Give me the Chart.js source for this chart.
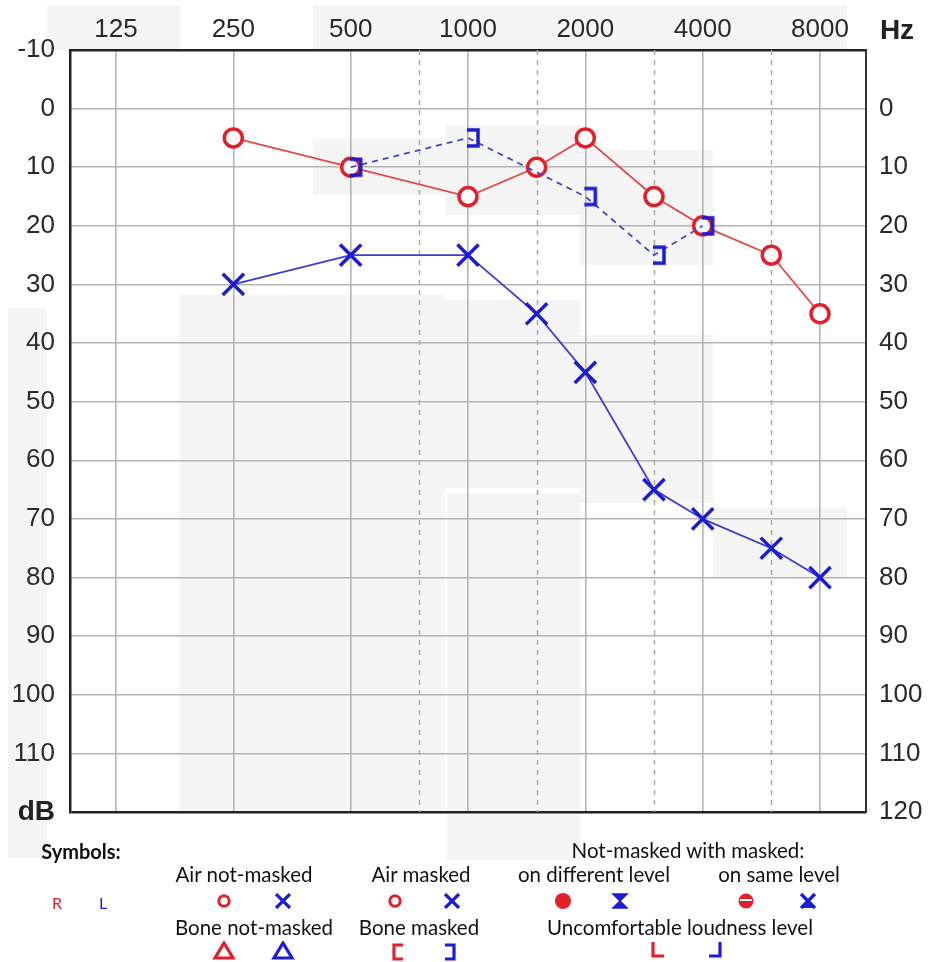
<!DOCTYPE html>
<html>
<head>
<meta charset="utf-8">
<script src="https://cdn.jsdelivr.net/npm/chart.js@4.4.1/dist/chart.umd.min.js"></script>
<style>
  html, body { margin: 0; padding: 0; background: #fff; }
  #wrap { position: relative; width: 937px; height: 962px; overflow: hidden; }
  #audiogram { position: absolute; left: 0; top: 0; }
  .lbl { position: absolute; white-space: nowrap; transform: translate(-50%, -50%);
         font-family: Lato, "Liberation Sans", sans-serif; font-size: 20.5px; color: #111; line-height: 1; }
  .sym { position: absolute; transform: translate(-50%, -50%); display: block; }
</style>
</head>
<body>
<div id="wrap">
  <canvas id="audiogram" width="937" height="962"></canvas>
  <div id="legend"></div>
</div>
<script>
// frequencies (Hz) and hearing levels (dB HL)
const freqTicks = [125, 250, 500, 1000, 2000, 4000, 8000];
const halfOctaves = [750, 1500, 3000, 6000];
const airFreqs = [250, 500, 1000, 1500, 2000, 3000, 4000, 6000, 8000];
const rightAir = [5, 10, 15, 10, 5, 15, 20, 25, 35];
const leftAir = [30, 25, 25, 35, 45, 65, 70, 75, 80];
const boneFreqs = [500, 1000, 2000, 3000, 4000];
const leftBoneMasked = [10, 5, 15, 25, 20];

const RED = '#e0202a';
const BLUE = '#1c1cd0';
const X_MIN = 125 / Math.pow(2, 0.392);
const X_MAX = 8000 * Math.pow(2, 0.392);

const toPoints = (xs, ys) => xs.map((f, i) => ({ x: f, y: ys[i] }));

// "]" bracket, open side on the frequency line
function bracketImage(color) {
  const c = document.createElement('canvas');
  c.width = 28; c.height = 24;
  const g = c.getContext('2d');
  g.strokeStyle = color;
  g.lineWidth = 3.5;
  g.beginPath();
  g.moveTo(13, 4); g.lineTo(24, 4); g.lineTo(24, 20); g.lineTo(13, 20);
  g.stroke();
  return c;
}

// faint grey patches of the scanned original
const patches = {
  id: 'patches',
  beforeDraw(chart) {
    const ctx = chart.ctx;
    ctx.save();
    ctx.fillStyle = '#f5f5f5';
    [[47, 5, 133, 45], [313, 5, 534, 45], [8, 308, 39, 550], [180, 295, 265, 517],
     [445, 300, 135, 188], [447, 493, 133, 367], [580, 335, 133, 168],
     [313, 138, 132, 57], [445, 125, 135, 90], [580, 150, 133, 115], [713, 507, 134, 70]]
      .forEach(r => ctx.fillRect(r[0], r[1], r[2], r[3]));
    ctx.restore();
  }
};

const halfOctaveLines = {
  id: 'halfOctaveLines',
  beforeDatasetsDraw(chart) {
    const { ctx, chartArea: { top, bottom }, scales: { x } } = chart;
    ctx.save();
    ctx.strokeStyle = '#acacac';
    ctx.lineWidth = 1.5;
    ctx.setLineDash([5, 5]);
    halfOctaves.forEach(f => {
      const px = Math.round(x.getPixelForValue(f)) + 0.5;
      ctx.beginPath();
      ctx.moveTo(px, top);
      ctx.lineTo(px, bottom);
      ctx.stroke();
    });
    ctx.restore();
  }
};

const tickFont = { family: '"Liberation Sans", Arial, sans-serif', size: 26 };
const boldFont = { family: '"Liberation Sans", Arial, sans-serif', size: 28, weight: 'bold' };
const isEdge = ctx => ctx.tick && ctx.tick.value === 120;

new Chart(document.getElementById('audiogram'), {
  type: 'line',
  data: {
    datasets: [
      {
        label: 'Left bone masked',
        data: toPoints(boneFreqs, leftBoneMasked),
        borderColor: '#4646c8',
        borderWidth: 1.8,
        borderDash: [6, 5],
        pointStyle: bracketImage(BLUE),
        pointRadius: 10
      },
      {
        label: 'Right air',
        data: toPoints(airFreqs, rightAir),
        borderColor: '#e04a4a',
        borderWidth: 1.8,
        pointStyle: 'circle',
        pointRadius: 9,
        pointBorderWidth: 3.5,
        pointBorderColor: RED,
        pointBackgroundColor: '#fff'
      },
      {
        label: 'Left air',
        data: toPoints(airFreqs, leftAir),
        borderColor: '#3c3cd0',
        borderWidth: 1.8,
        pointStyle: 'crossRot',
        pointRadius: 15,
        pointBorderWidth: 3.5,
        pointBorderColor: BLUE
      }
    ]
  },
  options: {
    responsive: false,
    animation: false,
    layout: { padding: { bottom: 150 } },
    plugins: { legend: { display: false }, tooltip: { enabled: false } },
    scales: {
      x: {
        type: 'logarithmic',
        position: 'top',
        min: X_MIN,
        max: X_MAX,
        afterBuildTicks: s => { s.ticks = freqTicks.map(v => ({ value: v })); },
        afterFit: s => { s.height = 50; },
        ticks: {
          callback: v => String(v),
          font: tickFont, color: '#2a2a2a', padding: 5,
          autoSkip: false, maxRotation: 0, minRotation: 0
        },
        grid: { color: '#b4b4b4', lineWidth: 1.6, drawTicks: false },
        border: { color: '#222', width: 2.5 }
      },
      y: {
        type: 'linear',
        position: 'left',
        reverse: true,
        min: -10,
        max: 120,
        afterFit: s => { s.width = 70; },
        ticks: {
          stepSize: 10,
          callback: v => (v === 120 ? 'dB' : String(v)),
          font: ctx => (isEdge(ctx) ? boldFont : tickFont),
          color: ctx => (isEdge(ctx) ? '#222' : '#2a2a2a'),
          padding: 15
        },
        grid: {
          color: ctx => (isEdge(ctx) ? '#222' : '#b4b4b4'),
          lineWidth: ctx => (isEdge(ctx) ? 2.5 : 1.6),
          drawTicks: false
        },
        border: { color: '#222', width: 2.5 }
      },
      y2: {
        type: 'linear',
        position: 'right',
        reverse: true,
        min: -10,
        max: 120,
        afterFit: s => { s.width = 71; },
        ticks: {
          stepSize: 10,
          callback: v => (v === -10 ? '' : String(v)),
          font: tickFont, color: '#2a2a2a', padding: 13
        },
        grid: { drawOnChartArea: false, drawTicks: false },
        border: { color: '#333', width: 2 }
      }
    }
  },
  plugins: [patches, halfOctaveLines]
});

// unit label and the symbol key underneath
const legend = document.getElementById('legend');
function addLabel(text, cx, cy, style) {
  const d = document.createElement('div');
  d.className = 'lbl';
  d.textContent = text;
  d.style.left = cx + 'px';
  d.style.top = cy + 'px';
  Object.assign(d.style, style || {});
  legend.appendChild(d);
}
function addSymbol(w, h, inner, cx, cy) {
  const s = '<svg class="sym" xmlns="http://www.w3.org/2000/svg" width="' + w + '" height="' + h +
    '" style="left:' + cx + 'px;top:' + cy + 'px">' + inner + '</svg>';
  legend.insertAdjacentHTML('beforeend', s);
}

addLabel('Hz', 897, 30, { fontFamily: '"Liberation Sans", Arial, sans-serif', fontWeight: 'bold', fontSize: '28px', color: '#222' });

addLabel('Symbols:', 81, 851, { fontWeight: 'bold', fontSize: '20px' });
addLabel('R', 57, 903, { color: RED, fontSize: '16px' });
addLabel('L', 103, 903, { color: BLUE, fontSize: '16px' });
addLabel('Air not-masked', 244, 874);
addLabel('Bone not-masked', 254, 927);
addLabel('Air masked', 421, 874);
addLabel('Bone masked', 419, 927);
addLabel('Not-masked with masked:', 688, 850);
addLabel('on different level', 594, 874);
addLabel('on same level', 779, 874);
addLabel('Uncomfortable loudness level', 680, 927);

const ring = c => '<circle cx="8" cy="8" r="5.2" fill="none" stroke="' + c + '" stroke-width="3"/>';
const cross = c => '<path d="M2 1 L16 15 M16 1 L2 15" stroke="' + c + '" stroke-width="3.2" fill="none"/>';
const tri = c => '<path d="M12 2 L21 17 L3 17 Z" fill="none" stroke="' + c + '" stroke-width="3.2"/>';

addSymbol(16, 16, ring(RED), 224, 901);
addSymbol(18, 16, cross(BLUE), 283, 901);
addSymbol(16, 16, ring(RED), 395, 901);
addSymbol(18, 16, cross(BLUE), 452, 901);
addSymbol(24, 20, tri(RED), 224, 951);
addSymbol(24, 20, tri(BLUE), 283, 951);
addSymbol(14, 18, '<path d="M12 2 H3 V16 H12" fill="none" stroke="' + RED + '" stroke-width="3.2"/>', 398, 952);
addSymbol(14, 18, '<path d="M2 2 H11 V16 H2" fill="none" stroke="' + BLUE + '" stroke-width="3.2"/>', 450, 952);
addSymbol(18, 18, '<circle cx="9" cy="9" r="8" fill="' + RED + '"/>', 563, 901);
addSymbol(18, 18, '<path d="M2 2 H16 L9 9 L16 16 H2 L9 9 Z" fill="' + BLUE + '" stroke="' + BLUE + '" stroke-width="1.5"/>', 620, 901);
addSymbol(18, 18, '<circle cx="9" cy="9" r="7.5" fill="' + RED + '"/><rect x="3" y="7" width="12" height="2" fill="#fff"/>', 746, 901);
addSymbol(18, 18, '<path d="M2 2 L16 16 M16 2 L2 16" stroke="' + BLUE + '" stroke-width="3.2"/><path d="M9 9 L16 16 H2 Z" fill="' + BLUE + '"/>', 808, 901);
addSymbol(16, 18, '<path d="M3 1 V15 H14" fill="none" stroke="' + RED + '" stroke-width="3.2"/>', 658, 950);
addSymbol(16, 18, '<path d="M13 1 V15 H2" fill="none" stroke="' + BLUE + '" stroke-width="3.2"/>', 715, 950);
</script>
</body>
</html>
